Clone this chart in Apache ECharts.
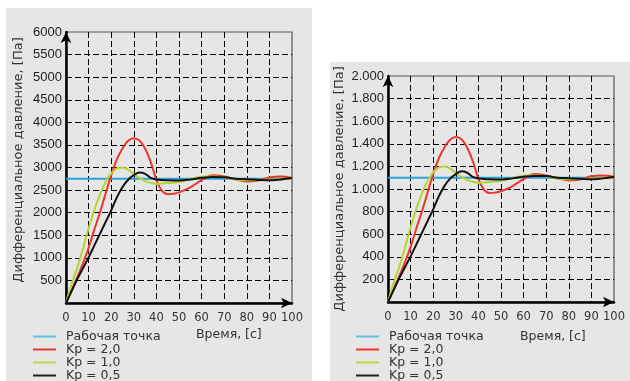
<!DOCTYPE html>
<html>
<head>
<meta charset="utf-8">
<script src="https://cdn.jsdelivr.net/npm/echarts@6/dist/echarts.min.js"></script>
<style>
  body { margin: 0; background: #fff; }
  .panel { position: absolute; background: #e5e6e5; }
  #left { left: 6px; top: 8px; width: 306px; height: 373px; }
  #right { left: 330px; top: 62px; width: 300px; height: 319px; }
</style>
</head>
<body>
<div id="left" class="panel"></div>
<div id="right" class="panel"></div>
<script>
// время, с
var times = [0, 2.5, 5, 7.5, 10, 12.5, 15, 17.5, 20, 22.5, 25, 27.5, 30, 32.5, 35, 37.5, 40,
    42.5, 45, 47.5, 50, 55, 60, 65, 70, 75, 80, 85, 90, 95, 100];
var xTicks = [0, 10, 20, 30, 40, 50, 60, 70, 80, 90, 100];
var legendNames = ["Рабочая точка", "Kp = 2,0", "Kp = 1,0", "Kp = 0,5"];

// левый график, Па
var setLeft = 2750;
var redLeft = [0, 280, 570, 880, 1220, 1620, 2000, 2420, 2830, 3180, 3420, 3590, 3650, 3600, 3420, 3120, 2730,
    2480, 2410, 2420, 2450, 2560, 2720, 2830, 2800, 2740, 2690, 2710, 2780, 2800, 2770];
var greenLeft = [0, 420, 780, 1200, 1650, 2060, 2400, 2680, 2870, 2980, 3000, 2950, 2860, 2770, 2700, 2660, 2640,
    2645, 2655, 2665, 2680, 2740, 2795, 2800, 2780, 2730, 2715, 2720, 2730, 2740, 2745];
var blackLeft = [0, 265, 530, 770, 1010, 1270, 1530, 1790, 2050, 2340, 2570, 2730, 2830, 2890, 2860, 2770, 2735,
    2722, 2715, 2712, 2712, 2735, 2772, 2790, 2785, 2750, 2740, 2725, 2715, 2735, 2765];

// правый график, Па
var setRight = 1100;
var redRight = [0, 112, 228, 352, 488, 648, 800, 968, 1132, 1272, 1368, 1436, 1460, 1440, 1368, 1248, 1092,
    992, 964, 968, 980, 1024, 1088, 1132, 1120, 1096, 1076, 1084, 1112, 1120, 1108];
var greenRight = [0, 168, 312, 480, 660, 824, 960, 1072, 1148, 1192, 1200, 1180, 1144, 1108, 1080, 1064, 1056,
    1058, 1062, 1066, 1072, 1096, 1118, 1120, 1112, 1092, 1086, 1088, 1092, 1096, 1098];
var blackRight = [0, 106, 212, 308, 404, 508, 612, 716, 820, 936, 1028, 1092, 1132, 1156, 1144, 1108, 1094,
    1089, 1086, 1085, 1085, 1094, 1109, 1116, 1114, 1100, 1096, 1090, 1086, 1094, 1106];

var colors = ["#2aa5db", "#e8382e", "#b5d334", "#111111"];
var legendColors = ["#5cc3e6", "#e8382e", "#c2d64a", "#222222"];
var font = "DejaVu Sans";

function pairs(vals) {
    return times.map(function (t, i) { return [t, vals[i]]; });
}

function dotted(v) {
    if (v >= 1000) {
        var rest = String(v % 1000);
        while (rest.length < 3) rest = "0" + rest;
        return Math.floor(v / 1000) + "." + rest;
    }
    return String(v);
}

function makeOption(c) {
    var series = [
        { name: legendNames[0], data: [[0, c.set], [100, c.set]], color: colors[0] },
        { name: legendNames[1], data: pairs(c.red), color: colors[1] },
        { name: legendNames[2], data: pairs(c.green), color: colors[2] },
        { name: legendNames[3], data: pairs(c.black), color: colors[3] }
    ].map(function (s, i) {
        return {
            name: s.name,
            type: "line",
            data: s.data,
            smooth: i > 0 ? 0.4 : false,
            symbol: "none",
            lineStyle: { color: s.color, width: 2 },
            itemStyle: { color: legendColors[i] }
        };
    });
    return {
        animation: false,
        grid: {
            left: c.grid[0], top: c.grid[1], width: 226, height: c.grid[2],
            show: true, borderColor: "#555", borderWidth: 1.2, backgroundColor: "transparent"
        },
        legend: {
            orient: "vertical",
            left: c.legend[0],
            top: c.legend[1],
            height: 80,
            padding: 0,
            itemWidth: 23,
            itemHeight: 2,
            itemGap: 0,
            icon: "rect",
            data: legendNames,
            textStyle: { fontFamily: font, fontSize: 12.5, color: "#333", lineHeight: 12.4, padding: [0, 0, 0, 5] }
        },
        xAxis: {
            type: "value",
            min: 0, max: 100, interval: 10,
            axisLine: { lineStyle: { color: "#000", width: 2.5 }, symbol: ["none", "arrow"], symbolSize: [8, 11] },
            axisTick: { show: false },
            axisLabel: {
                color: "#333", fontFamily: font, fontSize: 11.5, margin: 9,
                customValues: xTicks
            },
            splitLine: { showMaxLine: false, lineStyle: { color: "#000", type: [6, 3], width: 1 } }
        },
        yAxis: {
            type: "value",
            min: 0, max: c.max, interval: c.step,
            axisLine: { show: true, lineStyle: { color: "#000", width: 2.5 }, symbol: ["none", "arrow"], symbolSize: [8, 11] },
            axisTick: { show: false },
            axisLabel: {
                color: "#222", fontFamily: "Liberation Sans", fontSize: 13, margin: 4,
                showMinLabel: false, formatter: c.fmt
            },
            splitLine: { showMaxLine: false, lineStyle: { color: "#000", type: [6, 3], width: 1 } }
        },
        graphic: [
            {
                type: "text", x: c.yName[0], y: c.yName[1], rotation: Math.PI / 2,
                style: {
                    text: "Дифференциальное давление, [Па]", fontFamily: font, fontSize: 13,
                    fill: "#333", align: "center", verticalAlign: "middle"
                }
            },
            {
                type: "text", x: c.xName[0], y: c.xName[1],
                style: {
                    text: "Время, [с]", fontFamily: font, fontSize: 12.5,
                    fill: "#333", align: "left", verticalAlign: "middle"
                }
            }
        ],
        series: series
    };
}

var leftChart = echarts.init(document.getElementById("left"));
leftChart.setOption(makeOption({
    set: setLeft, red: redLeft, green: greenLeft, black: blackLeft,
    max: 6000, step: 500, fmt: function (v) { return String(v); },
    grid: [60, 24, 271], legend: [27, 322], yName: [13, 152], xName: [190, 327]
}));

var rightChart = echarts.init(document.getElementById("right"));
rightChart.setOption(makeOption({
    set: setRight, red: redRight, green: greenRight, black: blackRight,
    max: 2000, step: 200, fmt: dotted,
    grid: [58, 14, 226], legend: [26, 268], yName: [10, 127], xName: [190, 275]
}));
</script>
</body>
</html>
